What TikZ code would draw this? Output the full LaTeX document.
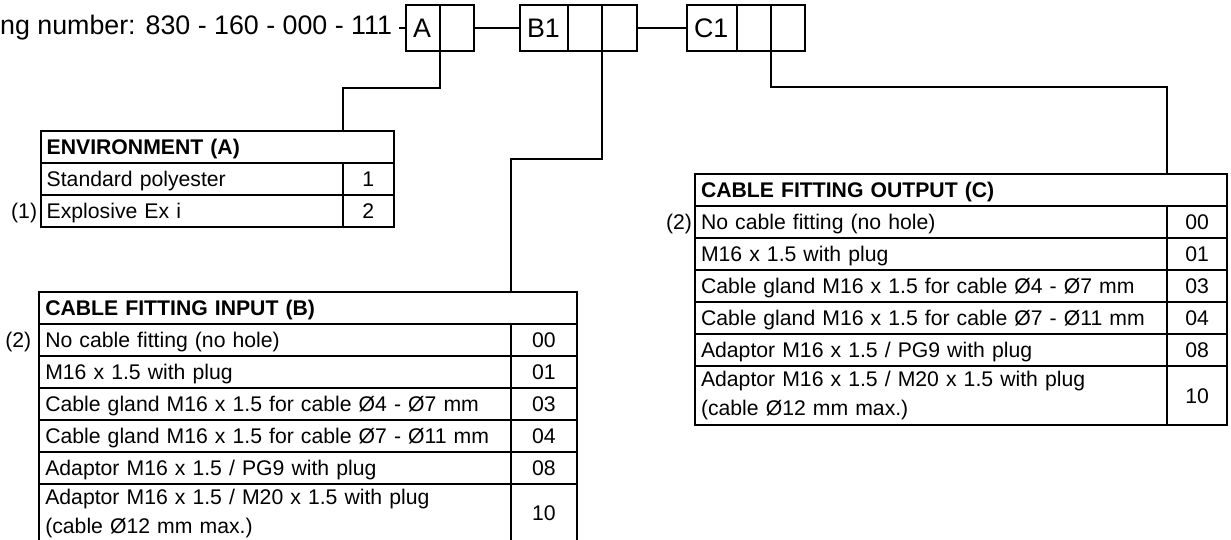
\documentclass[tikz,border=0pt]{standalone}
\usepackage{fontspec}
\setmainfont{Liberation Sans}
\usetikzlibrary{positioning}

\begin{document}
\begin{tikzpicture}[x=0.5pt, y=-0.5pt, line width=1pt,
  every node/.style={outer sep=0pt},
  tablefont/.style={font=\fontsize{10.6pt}{14.5pt}\selectfont},
  codefont/.style={font=\fontsize{13.4pt}{16pt}\selectfont},
  slot/.style={draw, codefont, minimum height=23pt, inner sep=0pt},
  letterslot/.style={slot, inner xsep=3.5pt, text width=#1, align=left},
  tcell/.style={draw, tablefont, inner xsep=3pt, inner ysep=0pt, minimum height=16pt},
  oneline/.style={text height=9.6pt, text depth=2pt},
  tlabel/.style={tcell, oneline, align=left, text width=#1},
  tvalue/.style={tcell, oneline, align=center, text width=#1},
  thead/.style={tlabel=#1, font=\fontsize{10.6pt}{14.5pt}\selectfont\bfseries},
  note/.style={tablefont, oneline, inner sep=0pt}]
\useasboundingbox (0,0) rectangle (1231,540);
% --- ordering code ---
\node[letterslot=10pt, anchor=west] (cA1) at (406,28) {A};
\node[slot, minimum width=17pt, right=0pt of cA1] (cA2) {};
\node[letterslot=17pt, anchor=west] (cB1) at (520,28) {B1};
\node[slot, minimum width=17pt, right=0pt of cB1] (cB2) {};
\node[slot, minimum width=17.5pt, right=0pt of cB2] (cB3) {};
\node[letterslot=18pt, anchor=west] (cC1) at (687,28) {C1};
\node[slot, minimum width=17pt, right=0pt of cC1] (cC2) {};
\node[slot, minimum width=17pt, right=0pt of cC2] (cC3) {};
\node[codefont, inner xsep=3.5pt, inner ysep=0pt, left=3.5pt of cA1] (ordno) {ng number: 830 - 160 - 000 - 111};
\draw (ordno.east) -- (cA1.west);
\draw (cA2.east) -- (cB1.west);
\draw (cB3.east) -- (cC1.west);
% --- environment (A) ---
\node[thead=170.5pt, anchor=north west] (envhead) at (40.7,130.7) {ENVIRONMENT (A)};
\foreach \t/\v [count=\i] in {Standard polyester/1, Explosive Ex i/2} {
  \node[tlabel=145pt, anchor=north west] (envlab\i) at (40.7,{162.7+(\i-1)*32}) {\t};
  \node[tvalue=19.5pt, right=0pt of envlab\i] (envval\i) {\v};
}
\node[note, left=1.8pt of envlab2] (envnote) {(1)};
% --- cable fitting input (B) ---
\node[thead=262.6pt, anchor=north west] (inhead) at (39.3,291.7) {CABLE FITTING INPUT (B)};
\foreach \t/\v [count=\i] in {{No cable fitting (no hole)}/00, {M16 x 1.5 with plug}/01,
    {Cable gland M16 x 1.5 for cable Ø4 - Ø7 mm}/03, {Cable gland M16 x 1.5 for cable Ø7 - Ø11 mm}/04,
    {Adaptor M16 x 1.5 / PG9 with plug}/08} {
  \node[tlabel=230pt, anchor=north west] (inlab\i) at (39.3,{323.7+(\i-1)*32}) {\t};
  \node[tvalue=26.6pt, right=0pt of inlab\i] (inval\i) {\v};
}
\node[tcell, align=left, text width=230pt, minimum height=29.65pt, anchor=north west] (inlab6) at (39.3,483.7) {Adaptor M16 x 1.5 / M20 x 1.5 with plug\\(cable Ø12 mm max.)};
\node[tvalue=26.6pt, minimum height=29.65pt, right=0pt of inlab6] (inval6) {10};
\node[note, left=4pt of inlab1] (innote) {(2)};
% --- cable fitting output (C) ---
\node[thead=260.2pt, anchor=north west] (outhead) at (695,174) {CABLE FITTING OUTPUT (C)};
\foreach \t/\v [count=\i] in {{No cable fitting (no hole)}/00, {M16 x 1.5 with plug}/01,
    {Cable gland M16 x 1.5 for cable Ø4 - Ø7 mm}/03, {Cable gland M16 x 1.5 for cable Ø7 - Ø11 mm}/04,
    {Adaptor M16 x 1.5 / PG9 with plug}/08} {
  \node[tlabel=230pt, anchor=north west] (outlab\i) at (695,{206+(\i-1)*32}) {\t};
  \node[tvalue=24.2pt, right=0pt of outlab\i] (outval\i) {\v};
}
\node[tcell, align=left, text width=230pt, minimum height=29.65pt, anchor=north west] (outlab6) at (695,366) {Adaptor M16 x 1.5 / M20 x 1.5 with plug\\(cable Ø12 mm max.)};
\node[tvalue=24.2pt, minimum height=29.65pt, right=0pt of outlab6] (outval6) {10};
\node[note, left=1.5pt of outlab1] (outnote) {(2)};
% --- connectors ---
\draw (cA1.south east) -- ++(0,37) -| (envval1.west |- envhead.north);
\draw (cB2.south east) -- ++(0,108) -| (inval1.west |- inhead.north);
\draw (cC2.south east) -- ++(0,36) -| (outval1.west |- outhead.north);
\end{tikzpicture}
\end{document}
